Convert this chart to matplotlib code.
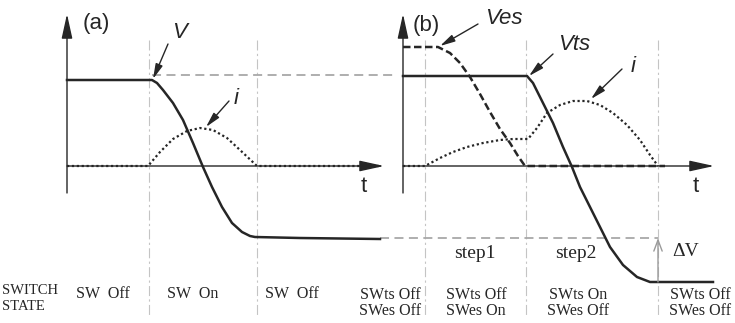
import matplotlib
matplotlib.use("Agg")
import matplotlib.pyplot as plt

# pixel-style coordinates of the schematic (x right, y down)
VA_X = [67, 152, 157, 163, 173, 183, 193, 203, 212, 222, 232, 242, 250, 255, 300, 380]
VA_Y = [80, 80, 83, 90, 103, 120, 143, 167, 187, 207, 223, 232, 236, 237, 238, 239]

IA_X = [67, 148, 160, 173, 187, 200, 213, 227, 240, 257, 380]
IA_Y = [166, 166, 152, 139, 131, 128, 130, 138, 150, 166, 166]

VES_X = [403, 438, 450, 460, 470, 480, 490, 500, 510, 518, 525, 665]
VES_Y = [47, 47, 53, 63, 77, 94, 112, 129, 143, 156, 166, 166]

VTS_X = [403, 527, 533, 543, 553, 563, 572, 580, 590, 600, 610, 623, 637, 650, 658, 713]
VTS_Y = [76, 76, 83, 103, 123, 147, 167, 187, 207, 227, 247, 265, 277, 282, 282, 282]

IB_X = [403, 425, 440, 453, 467, 483, 500, 513, 528, 537, 547, 560, 573, 587,
        600, 613, 627, 640, 650, 658]
IB_Y = [166, 166, 158, 152, 147, 143, 140, 139, 139, 128, 113, 105, 101, 101,
        105, 113, 125, 140, 155, 166]

SEP_X = [149, 257, 425, 526, 658]

# curve labels: text, text position, arrow tail, arrow tip
CURVE_LABELS = [
    ("V", (180, 33), (168, 44), (153, 79)),
    ("i", (236, 99), (229, 101), (206, 127)),
    ("Ves", (504, 19), (478, 24), (440, 46)),
    ("Vts", (574, 45), (553, 54), (529, 76)),
    ("i", (633, 66), (622, 69), (591, 99)),
]

STATE_ONE = [("SW  Off", 103), ("SW  On", 193), ("SW  Off", 292)]
STATE_TWO = [(("SWts Off", "SWes Off"), 390), (("SWts Off", "SWes On"), 476),
             (("SWts On", "SWes Off"), 578), (("SWts Off", "SWes Off"), 700)]
STEPS = [("step1", 475), ("step2", 576)]

SANS = "Liberation Sans"
SERIF = "Liberation Serif"
INK = "#262626"

fig = plt.figure(figsize=(7.35, 3.23), dpi=100)
ax = fig.add_axes([0, 0, 1, 1])
ax.set_xlim(0, 735)
ax.set_ylim(323, 0)
ax.axis("off")

# switching boundaries
for x in SEP_X:
    ax.plot([x, x], [40, 316], color="#c4c4c4", lw=0.8, ls=(0, (9, 3, 2, 3)))

# reference dashed levels
ax.plot([152, 397], [75, 75], color="#a8a8a8", lw=1.3, ls=(0, (5, 3)))
ax.plot([380, 658], [238, 238], color="#a8a8a8", lw=1.3, ls=(0, (5, 3)))

# axes with arrowheads
axis_arrow = dict(arrowstyle="-|>,head_length=1.5,head_width=0.33", lw=1.0,
                  color=INK, shrinkA=0, shrinkB=0)
for x0 in (67, 403):
    ax.annotate("", xy=(x0, 14), xytext=(x0, 193), arrowprops=axis_arrow)
ax.annotate("", xy=(384, 166), xytext=(67, 166), arrowprops=axis_arrow)
ax.annotate("", xy=(714, 166), xytext=(403, 166), arrowprops=axis_arrow)

# waveforms
ax.plot(VA_X, VA_Y, color=INK, lw=1.8, solid_joinstyle="round")
ax.plot(IA_X, IA_Y, color=INK, lw=1.6, ls=(0, (1, 1.2)))
ax.plot(VES_X, VES_Y, color=INK, lw=1.8, ls=(0, (3, 1.4)))
ax.plot(VTS_X, VTS_Y, color=INK, lw=1.8, solid_joinstyle="round")
ax.plot(IB_X, IB_Y, color=INK, lw=1.6, ls=(0, (1, 1.2)))

# delta V arrow
ax.annotate("", xy=(658, 238), xytext=(658, 282),
            arrowprops=dict(arrowstyle="->,head_length=0.8,head_width=0.3",
                            lw=1.0, color="#9a9a9a", shrinkA=0, shrinkB=0))
ax.text(672, 252, "\u0394V", family=SERIF, fontsize=14, color=INK,
        ha="left", va="center")

# curve labels
label_arrow = dict(arrowstyle="-|>,head_length=0.9,head_width=0.22", lw=1.0,
                   color=INK, shrinkA=0, shrinkB=0)
for text, txy, tail, tip in CURVE_LABELS:
    ax.annotate("", xy=tip, xytext=tail, arrowprops=label_arrow)
    ax.text(txy[0], txy[1], text, family=SANS, style="italic", fontsize=16,
            color=INK, ha="center", va="center")

ax.text(96, 24, "(a)", family=SANS, fontsize=16, color=INK, ha="center", va="center")
ax.text(426, 25, "(b)", family=SANS, fontsize=16, color=INK, ha="center", va="center")
ax.text(364, 186, "t", family=SANS, fontsize=16, color=INK, ha="center", va="center")
ax.text(696, 186, "t", family=SANS, fontsize=16, color=INK, ha="center", va="center")

for text, x in STEPS:
    ax.text(x, 254, text, family=SERIF, fontsize=14, color=INK,
            ha="center", va="center")

ax.text(2, 290, "SWITCH", family=SERIF, fontsize=10.5, color=INK, ha="left", va="center")
ax.text(2, 306, "STATE", family=SERIF, fontsize=10.5, color=INK, ha="left", va="center")
for text, x in STATE_ONE:
    ax.text(x, 294, text, family=SERIF, fontsize=11.5, color=INK, ha="center", va="center")
for (l1, l2), x in STATE_TWO:
    ax.text(x, 295, l1, family=SERIF, fontsize=11.5, color=INK, ha="center", va="center")
    ax.text(x, 311, l2, family=SERIF, fontsize=11.5, color=INK, ha="center", va="center")

fig.savefig("out.png", dpi=100)
